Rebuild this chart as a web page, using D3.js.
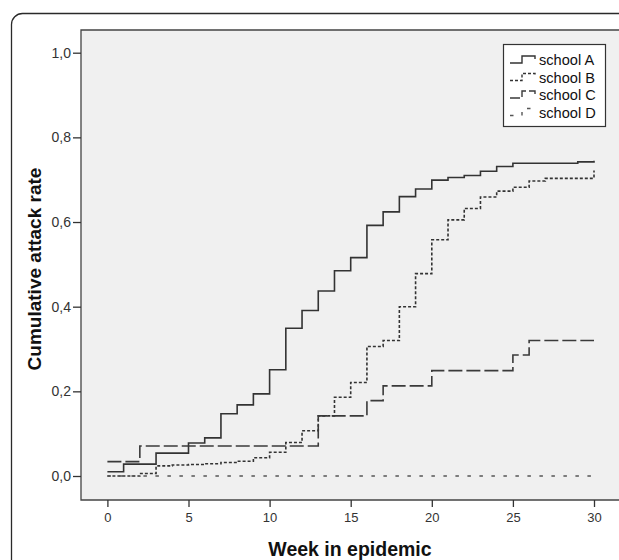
<!DOCTYPE html>
<html>
<head>
<meta charset="utf-8">
<script src="https://cdn.jsdelivr.net/npm/d3@7"></script>
<style>
  body { margin: 0; background: #fff; }
  text { font-family: "Liberation Sans", Arial, sans-serif; }
</style>
</head>
<body>
<div id="chart"></div>
<script>
const weeks = [0, 1, 2, 3, 4, 5, 6, 7, 8, 9, 10, 11, 12, 13, 14, 15, 16, 17, 18, 19, 20, 21, 22, 23, 24, 25, 26, 27, 28, 29, 30];

// cumulative attack rate per week
const schoolA = [0.010, 0.028, 0.028, 0.054, 0.054, 0.078, 0.090, 0.147, 0.168, 0.194, 0.251, 0.349, 0.391, 0.437, 0.485, 0.516,
  0.592, 0.624, 0.660, 0.678, 0.699, 0.705, 0.710, 0.720, 0.731, 0.739, 0.739, 0.739, 0.739, 0.742, 0.745];
const schoolB = [0.000, 0.000, 0.006, 0.024, 0.026, 0.027, 0.029, 0.032, 0.035, 0.043, 0.056, 0.079, 0.107, 0.142, 0.186, 0.221,
  0.306, 0.320, 0.400, 0.478, 0.558, 0.605, 0.632, 0.659, 0.673, 0.682, 0.697, 0.703, 0.703, 0.703, 0.722];
const schoolC = [0.034, 0.034, 0.071, 0.071, 0.071, 0.071, 0.071, 0.071, 0.071, 0.071, 0.071, 0.071, 0.071, 0.142, 0.142, 0.142,
  0.178, 0.213, 0.213, 0.213, 0.249, 0.249, 0.249, 0.249, 0.249, 0.286, 0.320, 0.320, 0.320, 0.320, 0.320];
const schoolD = [0, 0, 0, 0, 0, 0, 0, 0, 0, 0, 0, 0, 0, 0, 0, 0, 0, 0, 0, 0, 0, 0, 0, 0, 0, 0, 0, 0, 0, 0, 0];

const schoolNames = ['school A', 'school B', 'school C', 'school D'];
const xTicks = [0, 5, 10, 15, 20, 25, 30];
const yTicks = [0, 0.2, 0.4, 0.6, 0.8, 1.0];

const width = 619;
const height = 560;

const series = [
  { name: schoolNames[0], values: schoolA, dash: null, color: '#333' },
  { name: schoolNames[1], values: schoolB, dash: '3,2', color: '#333' },
  { name: schoolNames[2], values: schoolC, dash: '14,4', color: '#3a3a3a' },
  { name: schoolNames[3], values: schoolD, dash: '3.5,8.5', color: '#555' }
];

const plot = { left: 81, top: 30, bottom: 500, right: 660 };

const x = d3.scaleLinear().domain([0, 30]).range([107.4, 594]);
const y = d3.scaleLinear().domain([0, 1]).range([476, 52.7]);

const svg = d3.select('#chart').append('svg').attr('width', width).attr('height', height);

svg.append('rect').attr('width', width).attr('height', height).attr('fill', '#fff');

// outer rounded frame (cut off right and bottom)
svg
  .append('rect')
  .attr('x', 11.5)
  .attr('y', 13.5)
  .attr('width', 700)
  .attr('height', 700)
  .attr('rx', 11)
  .attr('fill', 'none')
  .attr('stroke', '#2a2a2a')
  .attr('stroke-width', 1.3);

// plot area
svg
  .append('rect')
  .attr('x', plot.left)
  .attr('y', plot.top)
  .attr('width', plot.right - plot.left)
  .attr('height', plot.bottom - plot.top)
  .attr('fill', '#f0f0f0');

svg
  .append('path')
  .attr('d', `M${plot.right},${plot.top}H${plot.left}V${plot.bottom}H${plot.right}`)
  .attr('fill', 'none')
  .attr('stroke', '#444')
  .attr('stroke-width', 1.3);

const commaFmt = d => d3.format('.1f')(d).replace('.', ',');

const yAxis = svg
  .append('g')
  .attr('transform', `translate(${plot.left},0)`)
  .call(d3.axisLeft(y).tickValues(yTicks).tickFormat(commaFmt).tickSize(8).tickPadding(2));
yAxis.select('.domain').remove();

const xAxis = svg
  .append('g')
  .attr('transform', `translate(0,${plot.bottom})`)
  .call(d3.axisBottom(x).tickValues(xTicks).tickSize(7).tickPadding(6));
xAxis.select('.domain').remove();

svg.selectAll('.tick line').attr('stroke', '#333').attr('stroke-width', 1.3);
yAxis.selectAll('.tick text').attr('font-size', 14).attr('fill', '#333');
xAxis.selectAll('.tick text').attr('font-size', 13).attr('fill', '#333');
svg.selectAll('.tick text').style('font-family', '"Liberation Sans", Arial, sans-serif');

// step curves
const line = d3
  .line()
  .x((d, i) => x(weeks[i]))
  .y(d => y(d))
  .curve(d3.curveStepAfter);

svg
  .append('g')
  .selectAll('path')
  .data(series)
  .join('path')
  .attr('d', s => line(s.values))
  .attr('fill', 'none')
  .attr('stroke', s => s.color)
  .attr('stroke-width', 1.6)
  .attr('stroke-dasharray', s => s.dash);

// axis titles
svg
  .append('text')
  .attr('transform', 'translate(41,269) rotate(-90)')
  .attr('text-anchor', 'middle')
  .attr('font-size', 19)
  .attr('font-weight', 'bold')
  .attr('fill', '#111')
  .text('Cumulative attack rate');

svg
  .append('text')
  .attr('x', 350)
  .attr('y', 556)
  .attr('text-anchor', 'middle')
  .attr('font-size', 19.5)
  .attr('font-weight', 'bold')
  .attr('fill', '#111')
  .text('Week in epidemic');

// legend
const legend = svg.append('g').attr('transform', 'translate(503,44)');
legend
  .append('rect')
  .attr('x', 0.5)
  .attr('y', 0.5)
  .attr('width', 102)
  .attr('height', 82)
  .attr('fill', '#fff')
  .attr('stroke', '#333')
  .attr('stroke-width', 1.2);

const items = legend
  .selectAll('g.item')
  .data(series)
  .join('g')
  .attr('class', 'item')
  .attr('transform', (d, i) => `translate(0,${16 + i * 17.5})`);

items
  .append('path')
  .attr('d', 'M7,3H19V-4H32V-1')
  .attr('fill', 'none')
  .attr('stroke', s => s.color)
  .attr('stroke-width', 1.4)
  .attr('stroke-dasharray', s => (s.dash === '14,4' ? '10,3' : s.dash));

items
  .append('text')
  .attr('x', 36)
  .attr('y', 5)
  .attr('font-size', 14.6)
  .attr('fill', '#111')
  .text(s => s.name);
</script>
</body>
</html>
